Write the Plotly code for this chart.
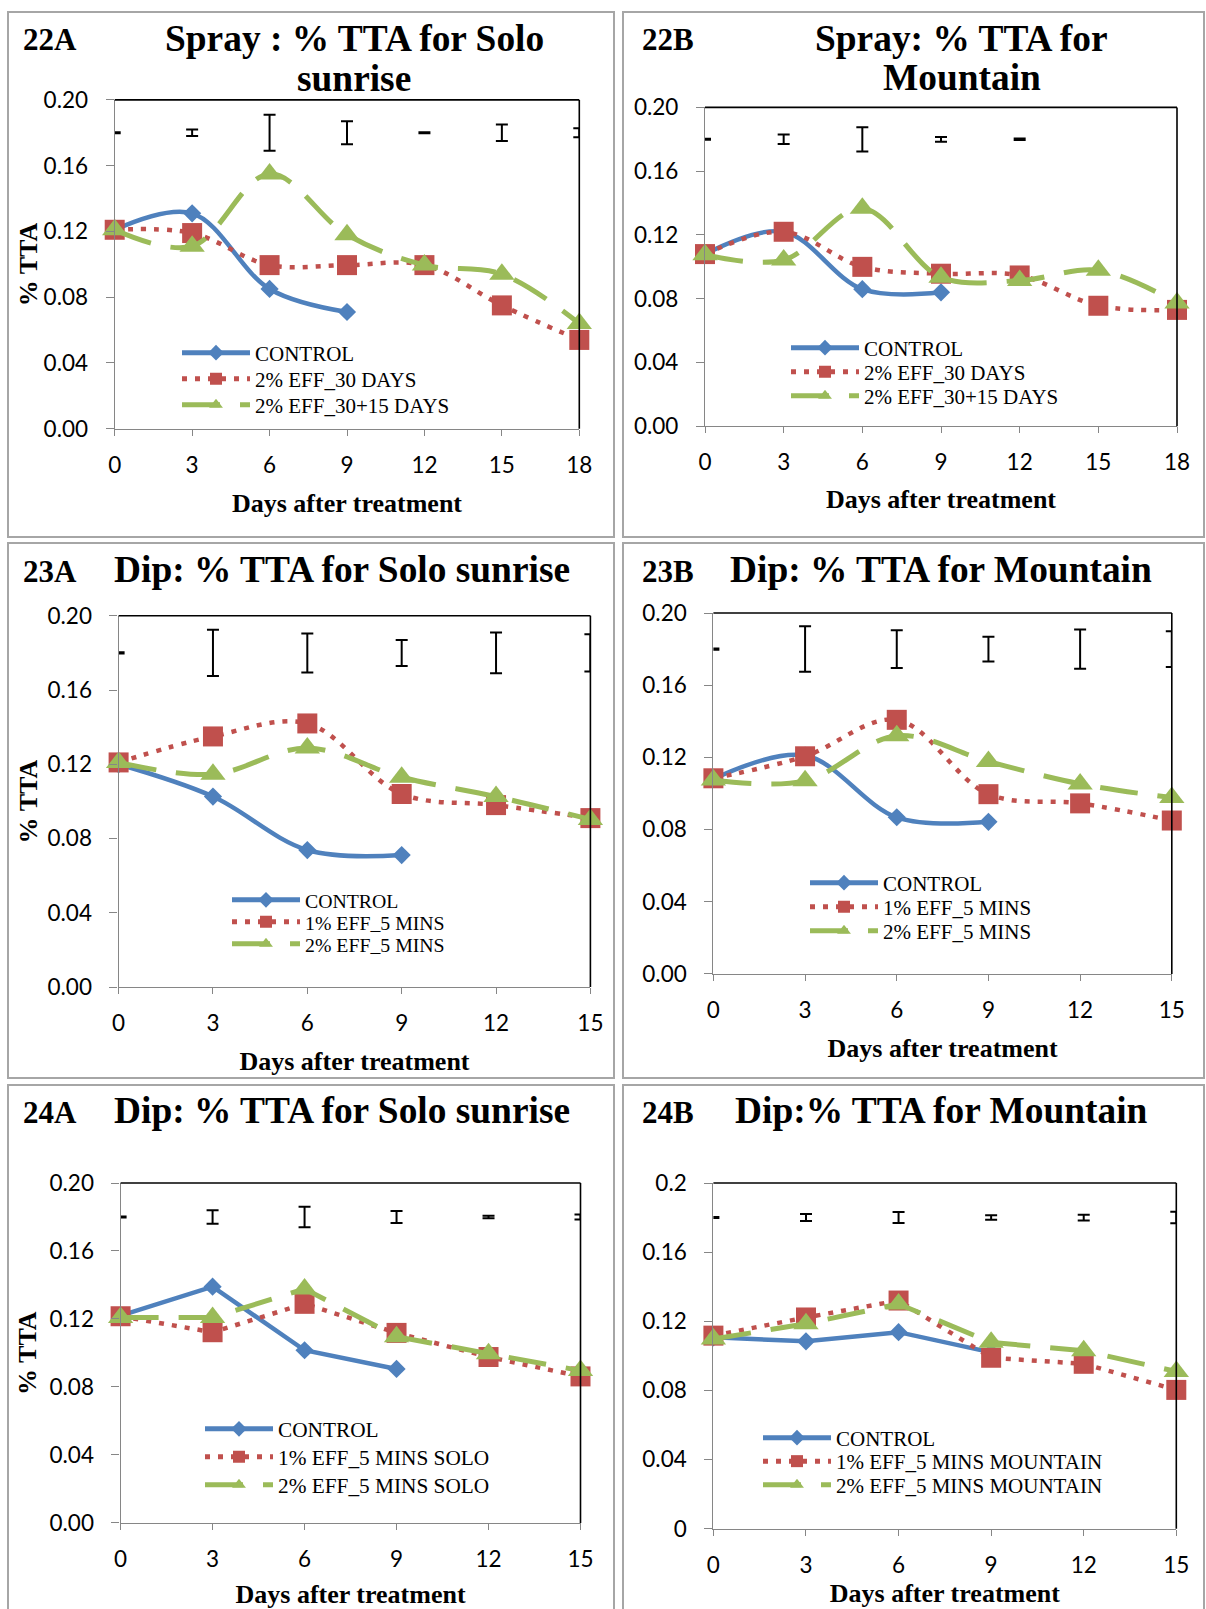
import plotly.graph_objects as go

W, H = 1206, 1609

# ---------------- data ----------------
days_18 = [0, 3, 6, 9, 12, 15, 18]
days_15 = [0, 3, 6, 9, 12, 15]
days_control = [0, 3, 6, 9]

# 22A Spray - Solo sunrise
s22a_control = [0.121, 0.131, 0.085, 0.071]
s22a_eff30 = [0.121, 0.119, 0.0995, 0.0995, 0.0995, 0.075, 0.054]
s22a_eff3015 = [0.121, 0.111, 0.155, 0.118, 0.0995, 0.094, 0.064]
s22a_err = [0.0003, 0.002, 0.011, 0.007, 0.0003, 0.005, 0.0027]

# 22B Spray - Mountain
s22b_control = [0.108, 0.122, 0.086, 0.084]
s22b_eff30 = [0.108, 0.122, 0.100, 0.0957, 0.0946, 0.0756, 0.073]
s22b_eff3015 = [0.1076, 0.1043, 0.1367, 0.0935, 0.0914, 0.0978, 0.0773]
s22b_err = [0.0003, 0.003, 0.0076, 0.0015, 0.0005, None, None]

# 23A Dip - Solo sunrise
d23a_control = [0.120, 0.1026, 0.0738, 0.0711]
d23a_eff1 = [0.121, 0.135, 0.142, 0.104, 0.098, 0.091]
d23a_eff2 = [0.121, 0.1146, 0.1288, 0.113, 0.1026, 0.0903]
d23a_err = [0.0003, 0.0125, 0.0105, 0.007, 0.011, 0.010]

# 23B Dip - Mountain
d23b_control = [0.108, 0.121, 0.0868, 0.0843]
d23b_eff1 = [0.1084, 0.1206, 0.1408, 0.0996, 0.0945, 0.085]
d23b_eff2 = [0.1075, 0.107, 0.132, 0.1177, 0.1053, 0.0977]
d23b_err = [0.0003, 0.0126, 0.0105, 0.0069, 0.0109, 0.0099]

# 24A Dip - Solo sunrise
d24a_control = [0.122, 0.139, 0.1016, 0.0906]
d24a_eff1 = [0.1216, 0.1122, 0.1289, 0.1118, 0.0976, 0.0862]
d24a_eff2 = [0.1208, 0.1208, 0.1377, 0.1096, 0.0996, 0.0896]
d24a_err = [0.0003, 0.004, 0.006, 0.0035, 0.0008, 0.0015]

# 24B Dip - Mountain
d24b_control = [0.1107, 0.1084, 0.1137, 0.102]
d24b_eff1 = [0.1117, 0.1222, 0.132, 0.0989, 0.0954, 0.0803]
d24b_eff2 = [0.1097, 0.1186, 0.130, 0.1078, 0.1029, 0.091]
d24b_err = [0.0003, 0.002, 0.0032, 0.0013, 0.0017, 0.0033]

err_center = 0.18

names_22 = ["CONTROL", "2% EFF_30 DAYS", "2% EFF_30+15 DAYS"]
names_23 = ["CONTROL", "1% EFF_5 MINS", "2% EFF_5 MINS"]
names_24a = ["CONTROL", "1% EFF_5 MINS SOLO", "2% EFF_5 MINS SOLO"]
names_24b = ["CONTROL", "1% EFF_5 MINS MOUNTAIN", "2% EFF_5 MINS MOUNTAIN"]

y_tickvals = [0, 0.04, 0.08, 0.12, 0.16, 0.20]
y_ticktext = ["0.00", "0.04", "0.08", "0.12", "0.16", "0.20"]
y_ticktext_24b = ["0", "0.04", "0.08", "0.12", "0.16", "0.2"]
x_title = "Days after treatment"
y_title = "% TTA"

# ---------------- styles ----------------
BLUE, RED, GREEN = "#4F81BD", "#C0504D", "#9BBB59"
SERIF = "Liberation Serif"
SANS = "Lato"
AXIS_GREY = "#868686"
BORDER_GREY = "#A6A6A6"

panels = [
    dict(label="22A", titles=[("Spray : % TTA for Solo", 354, 38), ("sunrise", 354, 79)],
         xpx=(114.7, 579.3), ypx=(99.9, 428.7), days=days_18, xmax=18,
         series=[s22a_control, s22a_eff30, s22a_eff3015], err=s22a_err, names=names_22,
         smooth=True, ytitle=True, yticks=y_ticktext, lab=(21, 40), xstand=16,
         leg=(183, [353, 379, 405]), legfont=21),
    dict(label="22B", titles=[("Spray: % TTA for", 961.6, 38), ("Mountain", 961.6, 77)],
         xpx=(705, 1177), ypx=(107.4, 426.3), days=days_18, xmax=18,
         series=[s22b_control, s22b_eff30, s22b_eff3015], err=s22b_err, names=names_22,
         smooth=True, ytitle=False, yticks=y_ticktext, lab=(640, 40), xstand=15,
         leg=(792, [348, 372, 396]), legfont=21),
    dict(label="23A", titles=[("Dip: % TTA for Solo sunrise", 342, 569)],
         xpx=(118.6, 590.4), ypx=(615.8, 987), days=days_15, xmax=15,
         series=[d23a_control, d23a_eff1, d23a_eff2], err=d23a_err, names=names_23,
         smooth=True, ytitle=True, yticks=y_ticktext, lab=(21, 571), xstand=16,
         leg=(233, [900, 922, 944]), legfont=19.8),
    dict(label="23B", titles=[("Dip: % TTA for Mountain", 940.7, 569)],
         xpx=(713.4, 1171.8), ypx=(613, 973.9), days=days_15, xmax=15,
         series=[d23b_control, d23b_eff1, d23b_eff2], err=d23b_err, names=names_23,
         smooth=True, ytitle=False, yticks=y_ticktext, lab=(640, 571), xstand=16,
         leg=(811, [883, 907, 931]), legfont=21),
    dict(label="24A", titles=[("Dip: % TTA for Solo sunrise", 342, 1110)],
         xpx=(120.6, 580.5), ypx=(1183, 1522.9), days=days_15, xmax=15,
         series=[d24a_control, d24a_eff1, d24a_eff2], err=d24a_err, names=names_24a,
         smooth=False, ytitle=True, yticks=y_ticktext, lab=(21, 1112), xstand=15,
         leg=(206, [1429, 1457, 1485]), legfont=21.3),
    dict(label="24B", titles=[("Dip:% TTA for Mountain", 941.6, 1110)],
         xpx=(713.4, 1176.3), ypx=(1183, 1528.7), days=days_15, xmax=15,
         series=[d24b_control, d24b_eff1, d24b_eff2], err=d24b_err, names=names_24b,
         smooth=False, ytitle=False, yticks=y_ticktext_24b, lab=(640, 1112), xstand=6,
         leg=(764, [1438, 1461.5, 1485]), legfont=21),
]

series_styles = [
    dict(line=dict(color=BLUE, width=4.5), marker=dict(symbol="diamond", size=14, color=BLUE)),
    dict(line=dict(color=RED, width=4.5, dash="5px,8px"), marker=dict(symbol="square", size=20, color=RED)),
    dict(line=dict(color=GREEN, width=5, dash="38px,20px"), marker=dict(symbol="triangle-up", size=22, color=GREEN)),
]

fig = go.Figure()
layout = dict(width=W, height=H, margin=dict(l=0, r=0, t=0, b=0, pad=0, autoexpand=False),
              paper_bgcolor="white", plot_bgcolor="white", showlegend=True)
annotations = []
shapes = []
leg_n = 0

def px_x(v):
    return v / W

def px_y(v):
    return 1 - v / H

for i, p in enumerate(panels):
    k = "" if i == 0 else str(i + 1)
    xa, ya = "x" + k, "y" + k
    for j, (vals, name) in enumerate(zip(p["series"], p["names"])):
        xs = days_control if j == 0 else p["days"]
        st = series_styles[j]
        line = dict(st["line"])
        line["shape"] = "spline" if p["smooth"] else "linear"
        if p["smooth"]:
            line["smoothing"] = 1.0
        leg_n += 1
        lk = "legend" if leg_n == 1 else "legend%d" % leg_n
        fig.add_trace(go.Scatter(
            x=xs, y=vals, name=name, mode="lines+markers",
            line=line, marker=st["marker"], cliponaxis=False,
            xaxis=xa, yaxis=ya, legend=lk))
        layout[lk] = dict(
            x=px_x(p["leg"][0] - 6), y=px_y(p["leg"][1][j]), xref="paper", yref="paper",
            xanchor="left", yanchor="middle", bgcolor="rgba(0,0,0,0)",
            borderwidth=0, itemwidth=68, itemsizing="constant",
            font=dict(family=SERIF, size=p["legfont"], color="black"))
    # LSD error bars
    fig.add_trace(go.Scatter(
        x=p["days"], y=[err_center if e is not None else None for e in p["err"]],
        mode="markers", marker=dict(size=1, color="rgba(0,0,0,0)"),
        error_y=dict(type="data", array=p["err"], visible=True, color="black",
                     thickness=2, width=6),
        showlegend=False, hoverinfo="skip", xaxis=xa, yaxis=ya))

    xdom = [px_x(p["xpx"][0]), px_x(p["xpx"][1])]
    ydom = [px_y(p["ypx"][1]), px_y(p["ypx"][0])]
    layout["xaxis" + k] = dict(
        domain=xdom, anchor=ya, range=[0, p["xmax"]], tickvals=p["days"],
        ticks="outside", ticklen=6, tickcolor=AXIS_GREY, tickwidth=1.3,
        showline=True, linecolor=AXIS_GREY, linewidth=1.3,
        showgrid=False, zeroline=False, ticklabelstandoff=10,
        tickfont=dict(family=SANS, size=22.5, color="black"),
        title=dict(text=x_title, standoff=p["xstand"],
                   font=dict(family=SERIF, size=26, color="black", weight="bold")))
    layout["yaxis" + k] = dict(
        domain=ydom, anchor=xa, range=[0, 0.2], tickvals=y_tickvals, ticktext=p["yticks"],
        ticks="outside", ticklen=8, tickcolor=AXIS_GREY, tickwidth=1.3,
        showline=True, linecolor=AXIS_GREY, linewidth=1.3,
        showgrid=False, zeroline=False, ticklabelstandoff=13,
        tickfont=dict(family=SANS, size=22.5, color="black"))
    if p["ytitle"]:
        annotations.append(dict(text=y_title, textangle=-90,
                                x=px_x(28), y=px_y((p["ypx"][0] + p["ypx"][1]) / 2),
                                xref="paper", yref="paper", xanchor="center", yanchor="middle",
                                showarrow=False,
                                font=dict(family=SERIF, size=26, color="black", weight="bold")))

    shapes.append(dict(type="line", xref=xa + " domain", yref=ya + " domain",
                       x0=0, x1=1, y0=1, y1=1, line=dict(color="black", width=1.6)))
    shapes.append(dict(type="line", xref=xa + " domain", yref=ya + " domain",
                       x0=1, x1=1, y0=0, y1=1, line=dict(color="black", width=1.6)))

    annotations.append(dict(text=p["label"], x=px_x(p["lab"][0]), y=px_y(p["lab"][1]),
                            xref="paper", yref="paper", xanchor="left", yanchor="middle",
                            showarrow=False,
                            font=dict(family=SERIF, size=31, color="black", weight="bold")))
    for (t, tx, ty) in p["titles"]:
        annotations.append(dict(text=t, x=px_x(tx), y=px_y(ty), xref="paper", yref="paper",
                                xanchor="center", yanchor="middle", showarrow=False,
                                font=dict(family=SERIF, size=37.4, color="black", weight="bold")))

panel_boxes = [(8, 12, 614, 537), (623, 12, 1204, 537),
               (8, 543, 614, 1078), (623, 543, 1204, 1078),
               (8, 1085, 614, 1620), (623, 1085, 1204, 1620)]
for (x0, y0, x1, y1) in panel_boxes:
    shapes.append(dict(type="rect", xref="paper", yref="paper",
                       x0=px_x(x0), x1=px_x(x1), y0=px_y(y1), y1=px_y(y0),
                       line=dict(color=BORDER_GREY, width=2), fillcolor="rgba(0,0,0,0)",
                       layer="below"))

layout["annotations"] = annotations
layout["shapes"] = shapes
fig.update_layout(**layout)
fig.write_html("out.html", config={"displayModeBar": False},
               post_script="document.body.style.margin='0';document.body.style.overflow='hidden';")
